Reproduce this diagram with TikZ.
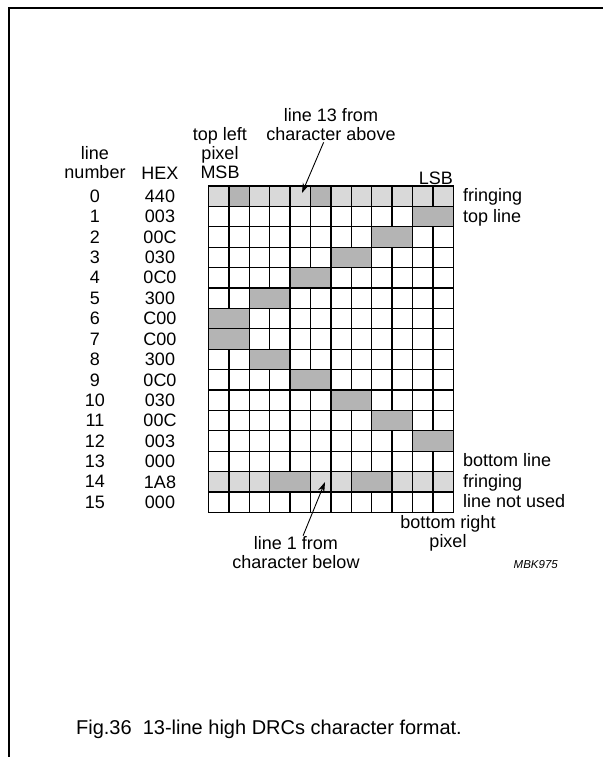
\documentclass[tikz,border=0pt]{standalone}
\usepackage{fontspec}
\setmainfont{Liberation Sans}
\usepackage{xcolor}
\usepackage{tikz}
\usetikzlibrary{arrows.meta}

\definecolor{fringegray}{RGB}{217,217,217}
\definecolor{pixgray}{RGB}{180,180,180}

\begin{document}
\begin{tikzpicture}[
    x=1pt, y=-1pt,
    cell/.style={draw, line width=1.3pt, fill=white},
    lbl/.style={inner sep=1pt, align=center, font=\fontsize{18}{19}\selectfont},
    arrow/.style={-{Stealth[length=10pt, width=6.5pt]}, line width=0.9pt}
]
\def\gx{208.5}
\def\gy{186}
\def\cw{20.4}
\useasboundingbox (0,0) rectangle (603,757);
\draw[line width=1.4pt] (9,757) -- (9,8) -- (603,8);

% --- PIXEL GRID ---
\foreach \r in {0,...,15}
  \foreach \c in {0,...,11}
    \draw[cell] ({\gx+\c*\cw},{\gy+\r*\cw}) rectangle ++(\cw,\cw);
\foreach \r in {0,14}
  \foreach \c in {0,...,11}
    \draw[cell, fill=fringegray] ({\gx+\c*\cw},{\gy+\r*\cw}) rectangle ++(\cw,\cw);
\foreach \r/\c/\n in {0/1/1, 0/5/1, 1/10/2, 2/8/2, 3/6/2, 4/4/2, 5/2/2, 6/0/2,
    7/0/2, 8/2/2, 9/4/2, 10/6/2, 11/8/2, 12/10/2, 14/3/2, 14/7/2}
  \draw[cell, fill=pixgray] ({\gx+\c*\cw},{\gy+\r*\cw}) rectangle ++({\n*\cw},\cw);

% --- ROW LABELS ---
\foreach \hex [count=\r from 0] in {440,003,00C,030,0C0,300,C00,C00,300,0C0,030,00C,003,000,1A8,000} {
  \node[lbl] (num\r) at (95,{\gy+(\r+0.5)*\cw}) {\r};
  \node[lbl] (hex\r) at (160,{\gy+(\r+0.5)*\cw}) {\hex};
}

% --- HEADINGS ---
\node[lbl] (linenum) at (95,163) {line\\number};
\node[lbl, anchor=base] (hexhead) at (160,179) {HEX};
\node[lbl] (msb) at (220,153) {top left\\pixel\\MSB};
\node[lbl, anchor=base east] (lsb) at (454,184) {LSB};

% --- RIGHT SIDE NOTES ---
\node[lbl, anchor=base west] (fringetop) at (462,{\gy+0.5*\cw+5.5}) {fringing};
\node[lbl, anchor=base west] (topline) at (462,{\gy+1.5*\cw+5.5}) {top line};
\node[lbl, anchor=base west] (botline) at (462,{\gy+13.5*\cw+5.5}) {bottom line};
\node[lbl, anchor=base west] (fringebot) at (462,{\gy+14.5*\cw+5.5}) {fringing};
\node[lbl, anchor=base west] (notused) at (462,{\gy+15.5*\cw+5.5}) {line not used};
\node[lbl] (botright) at (448,533) {bottom right\\pixel};

% --- ARROWS ---
\node[lbl] (above) at (331,125) {line 13 from\\character above};
\node[lbl] (below) at (296,553) {line 1 from\\character below};
\coordinate (fromabove) at (302,193);
\coordinate (frombelow) at (325,482);
\draw[arrow] (above) -- (fromabove);
\draw[arrow] (below) -- (frombelow);

\node[anchor=base east, inner sep=0pt, font=\fontsize{11.5}{13}\selectfont\itshape] (code) at (558,568) {MBK975};
\node[anchor=base, inner sep=0pt, font=\fontsize{20}{22}\selectfont] (caption) at (269,734) {Fig.36\ \ 13-line high DRCs character format.};
\end{tikzpicture}
\end{document}
